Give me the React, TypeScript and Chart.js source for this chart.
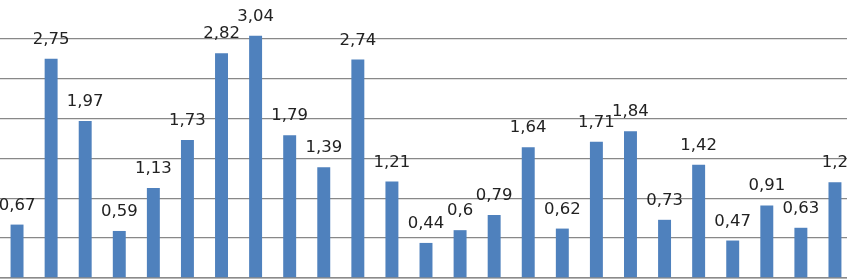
import React, { useEffect, useRef } from "react";
import { Chart, registerables } from "chart.js";

Chart.register(...registerables);

const categories = [
  "1", "2", "3", "4", "5", "6", "7", "8", "9", "10", "11", "12", "13",
  "14", "15", "16", "17", "18", "19", "20", "21", "22", "23", "24", "25",
];
const values = [
  0.67, 2.75, 1.97, 0.59, 1.13, 1.73, 2.82, 3.04, 1.79, 1.39, 2.74, 1.21, 0.44,
  0.6, 0.79, 1.64, 0.62, 1.71, 1.84, 0.73, 1.42, 0.47, 0.91, 0.63, 1.2,
];
const valueLabels = [
  "0,67", "2,75", "1,97", "0,59", "1,13", "1,73", "2,82", "3,04", "1,79", "1,39",
  "2,74", "1,21", "0,44", "0,6", "0,79", "1,64", "0,62", "1,71", "1,84", "0,73",
  "1,42", "0,47", "0,91", "0,63", "1,2",
];

const labelPlugin = {
  id: "valueLabels",
  afterDatasetsDraw(chart: any) {
    const ctx = chart.ctx;
    const meta = chart.getDatasetMeta(0);
    ctx.save();
    ctx.font = "16.5px 'DejaVu Sans'";
    ctx.fillStyle = "#222222";
    ctx.textAlign = "center";
    ctx.textBaseline = "alphabetic";
    meta.data.forEach((bar: any, i: number) => {
      ctx.fillText(valueLabels[i], bar.x, bar.y - 15);
    });
    ctx.restore();
  },
};

export default function App() {
  const ref = useRef<HTMLCanvasElement>(null);
  useEffect(() => {
    if (!ref.current) return;
    const chart = new Chart(ref.current, {
      type: "bar",
      data: {
        labels: categories,
        datasets: [
          {
            data: values,
            backgroundColor: "#4F81BD",
            borderWidth: 0,
            barPercentage: 0.38,
            categoryPercentage: 1,
          },
        ],
      },
      options: {
        animation: false,
        responsive: false,
        maintainAspectRatio: false,
        layout: { padding: { top: 0, bottom: 1, left: 0, right: 0 } },
        plugins: { legend: { display: false }, tooltip: { enabled: false } },
        scales: {
          x: {
            ticks: { display: false },
            grid: { display: false, drawTicks: false },
            border: { display: true, color: "#8a8a8a", width: 1.5 },
          },
          y: {
            min: 0,
            max: 3.5,
            ticks: { display: false, stepSize: 0.5 },
            grid: { color: "#888888", lineWidth: 1.3, drawTicks: false },
            border: { display: false },
          },
        },
      },
      plugins: [labelPlugin],
    });
    return () => chart.destroy();
  }, []);
  return (
    <div style={{ position: "fixed", left: 0, top: -1, width: 852, height: 280, background: "#fff" }}>
      <canvas ref={ref} width={852} height={280} style={{ display: "block" }} />
    </div>
  );
}
